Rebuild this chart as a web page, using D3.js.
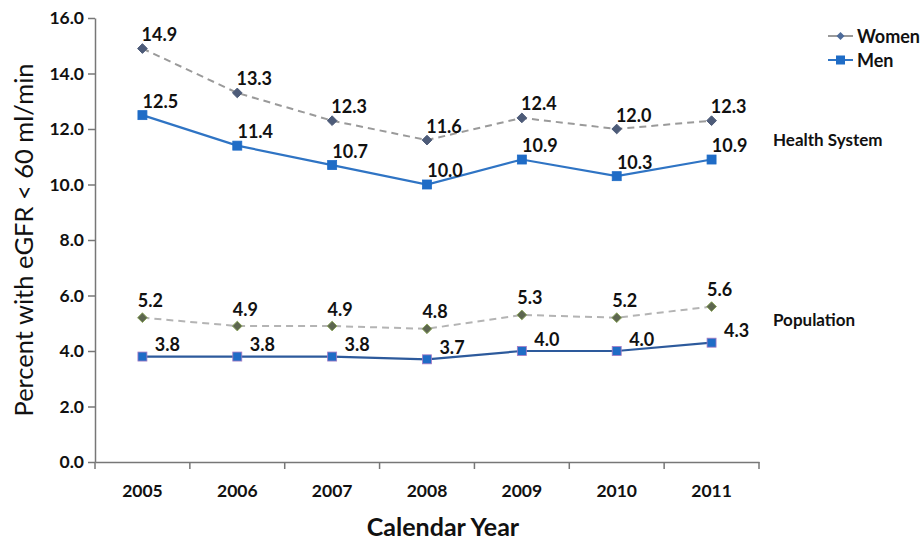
<!DOCTYPE html>
<html><head><meta charset="utf-8">
<script src="https://cdn.jsdelivr.net/npm/d3@7"></script>
<style>body{margin:0;background:#fff;} svg{display:block;}</style>
</head><body>
<svg id="chart" width="921" height="545"></svg>
<script>
const years = ["2005","2006","2007","2008","2009","2010","2011"];
const hsWomen = [14.9, 13.3, 12.3, 11.6, 12.4, 12.0, 12.3];
const hsMen = [12.5, 11.4, 10.7, 10.0, 10.9, 10.3, 10.9];
const popWomen = [5.2, 4.9, 4.9, 4.8, 5.3, 5.2, 5.6];
const popMen = [3.8, 3.8, 3.8, 3.7, 4.0, 4.0, 4.3];
const yTicks = [0, 2, 4, 6, 8, 10, 12, 14, 16];

const svg = d3.select("#chart");
const m = {left: 95, top: 18, right: 162, bottom: 83};
const W = 921, H = 545;
const x = d3.scaleBand().domain(years).range([m.left, W - m.right]);
const y = d3.scaleLinear().domain([0, 16]).range([H - m.bottom, m.top]);
const FONT = "Lato, 'Liberation Sans', sans-serif";

// axes
const yAxis = svg.append("g").attr("transform", `translate(${m.left},0)`)
  .call(d3.axisLeft(y).tickValues(yTicks).tickFormat(d3.format(".1f")).tickSize(7).tickSizeOuter(0));
const xAxis = svg.append("g").attr("transform", `translate(0,${y(0)})`)
  .call(d3.axisBottom(x).tickSize(0).tickSizeOuter(0));
[yAxis, xAxis].forEach(g => {
  g.select(".domain").attr("stroke", "#777").attr("stroke-width", 1.5);
  g.selectAll(".tick line").attr("stroke", "#777").attr("stroke-width", 1.5);
  g.selectAll("text").attr("font-family", FONT).attr("font-weight", "bold")
    .attr("font-size", 17.5).attr("fill", "#111");
});
yAxis.selectAll(".tick text").attr("x", -11);
xAxis.selectAll(".tick text").attr("dy", 0).attr("y", 35);
// x boundary ticks
const bounds = years.map(d => x(d)).concat([x(years[years.length-1]) + x.bandwidth()]);
xAxis.selectAll(".bt").data(bounds).enter().append("line")
  .attr("x1", d => d).attr("x2", d => d).attr("y1", 0).attr("y2", 7)
  .attr("stroke", "#777").attr("stroke-width", 1.5);

// titles
svg.append("text").attr("transform", `translate(33,${(y(0)+y(16))/2}) rotate(-90)`)
  .attr("text-anchor", "middle").attr("font-family", FONT).attr("font-size", 25.5)
  .attr("fill", "#111").text("Percent with eGFR < 60 ml/min");
svg.append("text").attr("x", (m.left + W - m.right) / 2 + 16).attr("y", 536)
  .attr("text-anchor", "middle").attr("font-family", FONT).attr("font-size", 25)
  .attr("font-weight", "bold").attr("fill", "#111").text("Calendar Year");

const cx = d => x(d) + x.bandwidth() / 2;
const line = d3.line().x((d, i) => cx(years[i])).y(d => y(d));

const series = [
  {vals: hsWomen, stroke: "#9a9a9a", dash: "7,5", width: 2, mk: "diamond", mfill: "#4d5b78", mstroke: "#4d5b78", dx: 17, dy: -14},
  {vals: hsMen, stroke: "#2f74c4", dash: null, width: 2.2, mk: "square", mfill: "#1f6cc6", mstroke: "#1f6cc6", dx: 18, dy: -14},
  {vals: popWomen, stroke: "#b4b4b4", dash: "7,5", width: 2, mk: "diamond", mfill: "#5d6650", mstroke: "#8aa35a", dx: 8, dy: -17},
  {vals: popMen, stroke: "#2d5a9c", dash: null, width: 2.2, mk: "square", mfill: "#1f6cc6", mstroke: "#a77bc4", dx: 25, dy: -12}
];

series.forEach(s => {
  svg.append("path").datum(s.vals).attr("d", line).attr("fill", "none")
    .attr("stroke", s.stroke).attr("stroke-width", s.width)
    .attr("stroke-dasharray", s.dash);
  const g = svg.append("g");
  s.vals.forEach((v, i) => {
    const px = cx(years[i]), py = y(v);
    if (s.mk === "square") {
      g.append("rect").attr("x", px - 4.5).attr("y", py - 4.5).attr("width", 9).attr("height", 9)
        .attr("fill", s.mfill).attr("stroke", s.mstroke).attr("stroke-width", 0.8);
    } else {
      g.append("path").attr("d", d3.symbol(d3.symbolDiamond2, 60)())
        .attr("transform", `translate(${px},${py})`)
        .attr("fill", s.mfill).attr("stroke", s.mstroke).attr("stroke-width", 1);
    }
    g.append("text").attr("x", px + s.dx).attr("y", py + s.dy + 6.5)
      .attr("text-anchor", "middle").attr("font-family", FONT).attr("font-weight", "bold")
      .attr("font-size", 18).attr("fill", "#111").text(d3.format(".1f")(v));
  });
});

// group labels
svg.append("text").attr("x", 773).attr("y", 146).attr("font-family", FONT)
  .attr("font-weight", "bold").attr("font-size", 17).attr("fill", "#111").text("Health System");
svg.append("text").attr("x", 773).attr("y", 326).attr("font-family", FONT)
  .attr("font-weight", "bold").attr("font-size", 17).attr("fill", "#111").text("Population");

// legend
const legend = [
  {name: "Women", stroke: "#9a9a9a", mk: "diamond", fill: "#4d6b9a", y: 36},
  {name: "Men", stroke: "#2f74c4", mk: "square", fill: "#1f6cc6", y: 60}
];
legend.forEach(l => {
  svg.append("line").attr("x1", 828).attr("x2", 853).attr("y1", l.y).attr("y2", l.y)
    .attr("stroke", l.stroke).attr("stroke-width", 2);
  if (l.mk === "square") {
    svg.append("rect").attr("x", 836).attr("y", l.y - 4.5).attr("width", 9).attr("height", 9).attr("fill", l.fill);
  } else {
    svg.append("path").attr("d", d3.symbol(d3.symbolDiamond2, 40)())
      .attr("transform", `translate(840.5,${l.y})`).attr("fill", l.fill);
  }
  svg.append("text").attr("x", 857).attr("y", l.y + 6.5).attr("font-family", FONT)
    .attr("font-weight", "bold").attr("font-size", 18).attr("fill", "#111").text(l.name);
});
</script>
</body></html>
